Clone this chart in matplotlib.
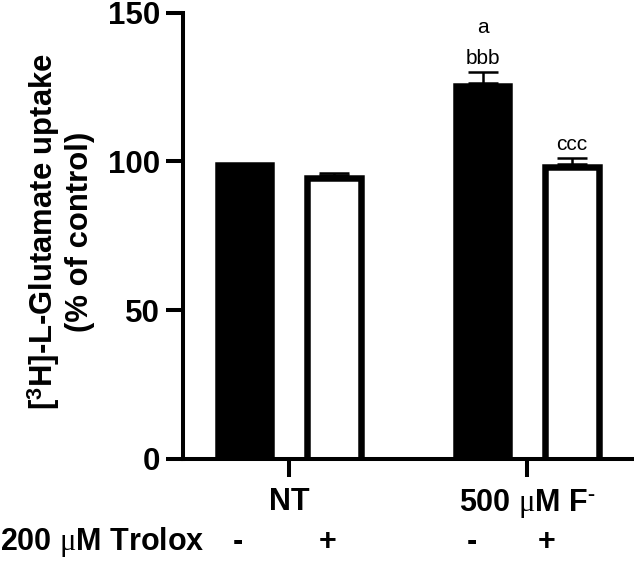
import matplotlib
matplotlib.use("Agg")
import matplotlib.pyplot as plt
import numpy as np

plt.rcParams['font.family'] = ['Liberation Sans', 'DejaVu Sans']
plt.rcParams['mathtext.fontset'] = 'custom'
plt.rcParams['mathtext.rm'] = 'Liberation Serif'
plt.rcParams['mathtext.it'] = 'Liberation Serif:italic'
plt.rcParams['mathtext.bf'] = 'Liberation Sans:bold'

groups = ["NT", r"500 $\mathrm{\mu}$M F$^{\mathbf{\text{-}}}$"]
trolox_label = r"200 $\mathrm{\mu}$M Trolox"
trolox_signs = ["-", "+", "-", "+"]
means = [100.0, 95.4, 126.4, 99.0]
sems = [0.0, 0.8, 3.6, 2.2]
fills = ["black", "white", "black", "white"]
annotations = [[], [], ["bbb", "a"], ["ccc"]]

W, H = 634, 569
fig = plt.figure(figsize=(W / 100, H / 100), dpi=100)
ax = fig.add_axes([183.5 / W, 1 - 458.8 / H, (W - 183.5) / W, (458.8 - 12.5) / H])

xmin, xmax = -0.4445, 1.448
ymin, ymax = 0, 150
px_x = (W - 183.5) / (xmax - xmin)      # pixels per x unit
px_y = (458.8 - 12.5) / (ymax - ymin)   # pixels per y unit

border_px = 6.5
outer_px = 60.0
half_b = border_px / 2 / px_y
group_pos = np.array([0.0, 1.0])
offset = 44.7 / px_x
width = (outer_px - border_px) / px_x
xs = np.array([group_pos[0] - offset, group_pos[0] + offset,
               group_pos[1] - offset, group_pos[1] + offset])

for x, m, s, f, ann in zip(xs, means, sems, fills, annotations):
    ax.bar(x, m, width=width, bottom=-half_b, color=f, edgecolor="black",
           linewidth=border_px * 0.72, zorder=2)
    top = m
    if s > 0:
        ax.errorbar(x, m, yerr=[[0], [s]], fmt="none", ecolor="black",
                    elinewidth=1.8, capsize=10.8, capthick=1.8, zorder=3)
        top = m + s
    for i, a in enumerate(ann):
        ax.annotate(a, (x, top), xytext=(0, 5.8 + 22.3 * i),
                    textcoords="offset points", ha="center", va="baseline",
                    fontsize=15)

ax.set_xlim(xmin, xmax)
ax.set_ylim(ymin, ymax)
ax.set_yticks([0, 50, 100, 150])
ax.set_xticks(group_pos)
ax.set_xticklabels(groups, fontsize=22, fontweight="bold")
for lbl in ax.get_yticklabels():
    lbl.set_fontsize(22.5)
    lbl.set_fontweight("bold")

for side in ["top", "right"]:
    ax.spines[side].set_visible(False)
for side in ["left", "bottom"]:
    ax.spines[side].set_linewidth(2.9)
ax.tick_params(axis="y", length=12.6, width=2.9, pad=4.3)
ax.tick_params(axis="x", length=13, width=2.9, pad=7)

ylab_y = 1 - 232 / H
fig.text(53 / W, ylab_y, "[$^{\\mathbf{3}}$H]-L-Glutamate uptake", rotation=90,
         rotation_mode="anchor", ha="center", va="baseline",
         fontsize=22.3, fontweight="bold")
fig.text(88 / W, ylab_y, "(% of control)", rotation=90,
         rotation_mode="anchor", ha="center", va="baseline",
         fontsize=22.3, fontweight="bold")

row_y = 1 - 550 / H
fig.text(0.0, row_y, trolox_label, fontsize=22, fontweight="bold",
         ha="left", va="baseline")
sign_px = [238, 328, 472, 547]
for sx, sg in zip(sign_px, trolox_signs):
    fig.text(sx / W, row_y, sg, fontsize=22, fontweight="bold",
             ha="center", va="baseline")

fig.savefig("out.png", dpi=100)
